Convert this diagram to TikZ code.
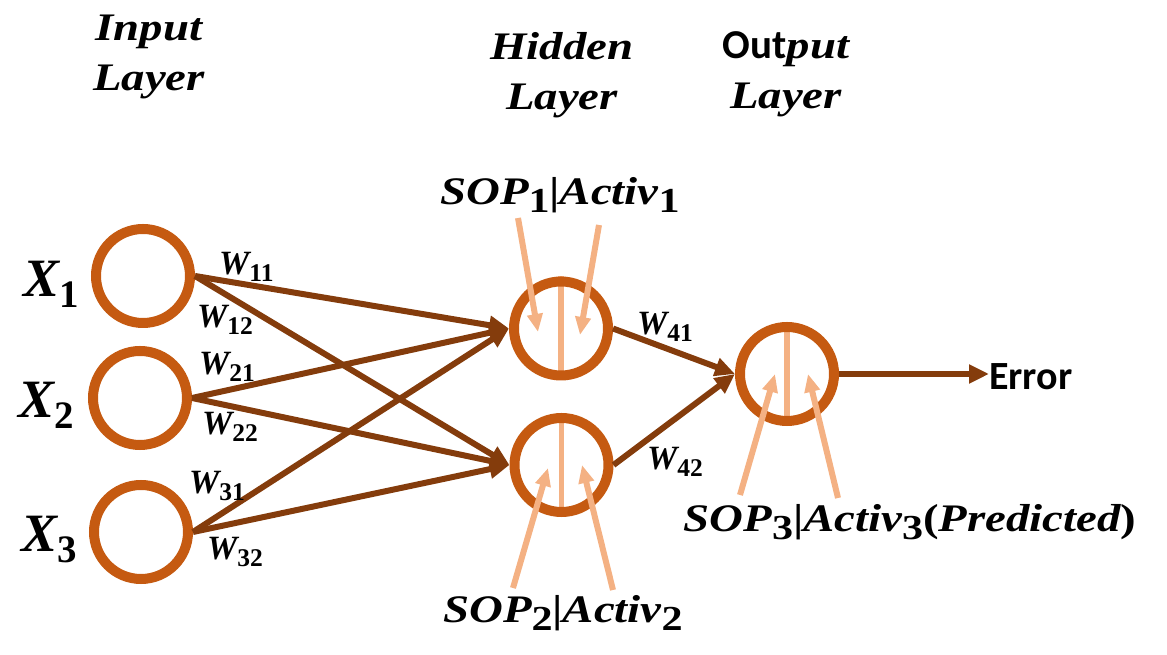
\documentclass[tikz,border=0pt]{standalone}
\usepackage{fontspec}
\usepackage{graphicx}
\usepackage{tikz}
\usetikzlibrary{arrows.meta, positioning, calc, backgrounds}

\definecolor{ringc}{HTML}{C55A11}
\definecolor{linkc}{HTML}{843C0C}
\definecolor{peach}{HTML}{F4B183}

\newfontfamily\labfont{Liberation Serif}[FakeStretch=1.2]
\newfontfamily\wfont{Liberation Serif}
\newfontfamily\calfont{Carlito}

\newcommand{\lsub}[2][0.75]{\raisebox{-0.2em}{\upshape\scalebox{#1}{#2}}}

\begin{document}
\begin{tikzpicture}[x=1pt, y=1pt,
    neuron/.style={circle, draw=ringc, line width=10pt, minimum size=94pt, inner sep=0pt},
    link/.style={draw=linkc, line width=6pt, -{Triangle[length=20pt, width=18pt]}},
    feed/.style={draw=peach, line width=6pt, -{Triangle[length=18pt, width=15pt]}},
    split/.style={draw=peach, line width=5.5pt},
    title/.style={font=\labfont\bfseries\itshape\fontsize{39}{50}\selectfont, align=center, inner sep=0pt, anchor=north},
    xlab/.style={font=\wfont\bfseries\itshape\fontsize{54}{54}\selectfont, inner sep=0pt, anchor=base east},
    wlab/.style={font=\wfont\bfseries\itshape\fontsize{34}{34}\selectfont, inner sep=0pt, anchor=base west},
    soplab/.style={font=\labfont\bfseries\itshape\fontsize{39}{39}\selectfont, inner sep=0pt, anchor=base}]

\useasboundingbox (0,0) rectangle (1167,655);

% Layer titles
\node[title] (tin) at (149,640) {Input\\Layer};
\node[title] (thid) at (562,623) {Hidden\\Layer};
\node[title] (tout) at (786,624) {{\calfont\upshape\fontsize{41}{50}\selectfont Out}put\\Layer};

% Neurons
\node[neuron] (x1) at (143,379) {};
\node[neuron] (x2) at (140,257) {};
\node[neuron] (x3) at (141,123) {};
\node[neuron] (h1) at (561,326.5) {};
\node[neuron] (h2) at (561.5,190) {};
\node[neuron] (o) at (787,281) {};

% Input labels
\node[xlab] (lx1) at (79,358) {X\lsub[0.72]{1}};
\node[xlab] (lx2) at (74,237) {X\lsub[0.72]{2}};
\node[xlab] (lx3) at (77,103) {X\lsub[0.72]{3}};

% Split line inside hidden and output neurons
\begin{scope}[on background layer]
\draw[split] (h1.north) -- (h1.south);
\draw[split] (h2.north) -- (h2.south);
\draw[split] (o.north) -- (o.south);
\end{scope}

% Weighted links
\draw[link] (x1.east) -- (h1.west);
\draw[link] (x1.east) -- (h2.west);
\draw[link] (x2.east) -- (h1.west);
\draw[link] (x2.east) -- (h2.west);
\draw[link] (x3.east) -- (h1.west);
\draw[link] (x3.east) -- (h2.west);
\draw[link] (h1.east) -- (o.west);
\draw[link] (h2.east) -- (o.west);

% Weight labels
\node[wlab] (w11) at (219,380) {W\lsub{11}};
\node[wlab] (w12) at (197,327) {W\lsub{12}};
\node[wlab] (w21) at (199,280) {W\lsub{21}};
\node[wlab] (w22) at (202,220) {W\lsub{22}};
\node[wlab] (w31) at (189,161) {W\lsub{31}};
\node[wlab] (w32) at (207,95) {W\lsub{32}};
\node[wlab] (w41) at (637,320) {W\lsub{41}};
\node[wlab] (w42) at (647,185) {W\lsub{42}};

% SOP / activation labels
\node[soplab] (sop1) at (560,450) {SOP\lsub[0.9]{1}{\upshape|}Activ\lsub[0.9]{1}};
\node[soplab] (sop2) at (563,32) {SOP\lsub[0.9]{2}{\upshape|}Activ\lsub[0.9]{2}};
\node[soplab] (sop3) at (910,123) {SOP\lsub[0.9]{3}{\upshape|}Activ\lsub[0.9]{3}{\upshape(}Predicted{\upshape)}};

% Error output
\node[font=\calfont\bfseries\fontsize{40}{40}\selectfont, inner sep=0pt, anchor=base west] (err) at (989,265) {Error};
\draw[link] (o.east) -- (o.east -| err.west);

% Feed arrows into the neurons
\coordinate (s1a) at ($(h1)+(-43,110.5)$);
\coordinate (e1a) at ($(h1)+(-23,-3.5)$);
\coordinate (s1b) at ($(h1)+(38,103.5)$);
\coordinate (e1b) at ($(h1)+(19,-6.5)$);
\coordinate (s2a) at ($(h2)+(-48.5,-123)$);
\coordinate (e2a) at ($(h2)+(-13.5,-3)$);
\coordinate (s2b) at ($(h2)+(51.5,-125)$);
\coordinate (e2b) at ($(h2)+(20.5,0)$);
\coordinate (s3a) at ($(o)+(-47,-121)$);
\coordinate (e3a) at ($(o)+(-12,0)$);
\coordinate (s3b) at ($(o)+(51,-124)$);
\coordinate (e3b) at ($(o)+(21,0)$);
\draw[feed] (s1a) -- (e1a);
\draw[feed] (s1b) -- (e1b);
\draw[feed] (s2a) -- (e2a);
\draw[feed] (s2b) -- (e2b);
\draw[feed] (s3a) -- (e3a);
\draw[feed] (s3b) -- (e3b);

\end{tikzpicture}
\end{document}
